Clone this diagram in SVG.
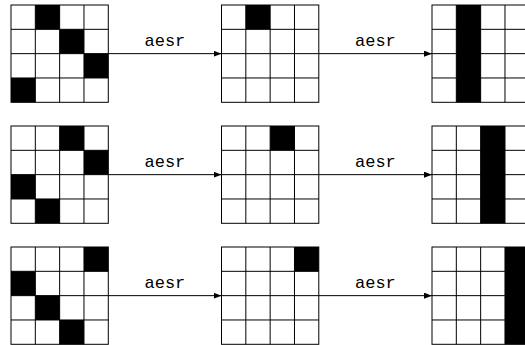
<svg xmlns="http://www.w3.org/2000/svg" xmlns:xlink="http://www.w3.org/1999/xlink" width="525" height="345" viewBox="0 0 525 345">
<style>
.bg{fill:#fff}
.cell{fill:#000}
.gl{fill:none;stroke:#000;stroke-width:1}
.conn{stroke:#000;stroke-width:1;fill:none}
.lbl{font-family:"Liberation Mono","DejaVu Sans Mono",monospace;font-size:17px;fill:#000;text-anchor:middle}
</style>
<defs>
<g id="grid">
<rect class="gl" x="0" y="0" width="97.3" height="97.3"/>
<path class="gl" d="M24.325 0V97.3M48.65 0V97.3M72.975 0V97.3M0 24.325H97.3M0 48.65H97.3M0 72.975H97.3"/>
</g>
<marker id="ah" viewBox="0 0 8 6" refX="8" refY="3" markerWidth="8" markerHeight="6" markerUnits="userSpaceOnUse" orient="auto">
<path d="M0 0L8 3L0 6Z" fill="#000"/>
</marker>
</defs>
<rect class="bg" x="0" y="0" width="525" height="345"/>

<g id="r1g1" transform="translate(11,5)">
<rect class="cell" x="24.325" y="0" width="24.325" height="24.325"/>
<rect class="cell" x="48.65" y="24.325" width="24.325" height="24.325"/>
<rect class="cell" x="72.975" y="48.65" width="24.325" height="24.325"/>
<rect class="cell" x="0" y="72.975" width="24.325" height="24.325"/>
<use xlink:href="#grid"/>
</g>
<g id="r1g2" transform="translate(221.5,5)">
<rect class="cell" x="24.325" y="0" width="24.325" height="24.325"/>
<use xlink:href="#grid"/>
</g>
<g id="r1g3" transform="translate(432,5)">
<rect class="cell" x="24.325" y="0" width="24.325" height="97.3"/>
<use xlink:href="#grid"/>
</g>

<g id="r2g1" transform="translate(11,126)">
<rect class="cell" x="48.65" y="0" width="24.325" height="24.325"/>
<rect class="cell" x="72.975" y="24.325" width="24.325" height="24.325"/>
<rect class="cell" x="0" y="48.65" width="24.325" height="24.325"/>
<rect class="cell" x="24.325" y="72.975" width="24.325" height="24.325"/>
<use xlink:href="#grid"/>
</g>
<g id="r2g2" transform="translate(221.5,126)">
<rect class="cell" x="48.65" y="0" width="24.325" height="24.325"/>
<use xlink:href="#grid"/>
</g>
<g id="r2g3" transform="translate(432,126)">
<rect class="cell" x="48.65" y="0" width="24.325" height="97.3"/>
<use xlink:href="#grid"/>
</g>

<g id="r3g1" transform="translate(11,247)">
<rect class="cell" x="72.975" y="0" width="24.325" height="24.325"/>
<rect class="cell" x="0" y="24.325" width="24.325" height="24.325"/>
<rect class="cell" x="24.325" y="48.65" width="24.325" height="24.325"/>
<rect class="cell" x="48.65" y="72.975" width="24.325" height="24.325"/>
<use xlink:href="#grid"/>
</g>
<g id="r3g2" transform="translate(221.5,247)">
<rect class="cell" x="72.975" y="0" width="24.325" height="24.325"/>
<use xlink:href="#grid"/>
</g>
<g id="r3g3" transform="translate(432,247)">
<rect class="cell" x="72.975" y="0" width="24.325" height="97.3"/>
<use xlink:href="#grid"/>
</g>

<g id="connectors">
<path class="conn" d="M108.3 53.65H221.5" marker-end="url(#ah)"/>
<path class="conn" d="M318.8 53.65H432" marker-end="url(#ah)"/>
<path class="conn" d="M108.3 174.65H221.5" marker-end="url(#ah)"/>
<path class="conn" d="M318.8 174.65H432" marker-end="url(#ah)"/>
<path class="conn" d="M108.3 295.65H221.5" marker-end="url(#ah)"/>
<path class="conn" d="M318.8 295.65H432" marker-end="url(#ah)"/>
<text class="lbl" x="164.9" y="45.7">aesr</text>
<text class="lbl" x="375.4" y="45.7">aesr</text>
<text class="lbl" x="164.9" y="166.7">aesr</text>
<text class="lbl" x="375.4" y="166.7">aesr</text>
<text class="lbl" x="164.9" y="287.7">aesr</text>
<text class="lbl" x="375.4" y="287.7">aesr</text>
</g>
</svg>
